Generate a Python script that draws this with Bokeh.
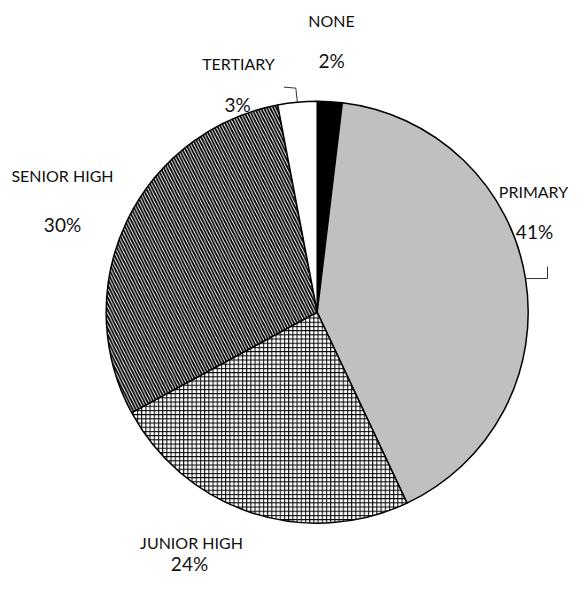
import numpy as np
from bokeh.plotting import figure
from bokeh.models import Range1d, ColumnDataSource
from bokeh.core.properties import value
from bokeh.embed import file_html
from bokeh.resources import INLINE

# ---------------- data ----------------
categories = ["None", "Primary", "Junior High", "Senior High", "Tertiary"]
shares = [1.9, 41.1, 24.1, 29.9, 3.0]          # percent
pct_labels = ["2%", "41%", "24%", "30%", "3%"]

# ---------------- styles ----------------
fill_colors = ["black", "#c0c0c0", "white", "white", "white"]
hatch_patterns = [" ", " ", "+", "\\", " "]
hatch_scales = [6, 6, 4.2, 6.2, 6]
hatch_weights = [1, 1, 1.0, 1.8, 1]

# ---------------- layout (figure pixels) ----------------
W, H = 568, 578
CX, CY = 316.7, 311.7     # pie centre
R = 211
BASE_SHIFT = 7            # renderer puts alphabetic baseline a bit lower
# label anchors (centre x, baseline y)
name_pos = [(331, 27), (533, 198), (191, 549), (62, 182), (238, 70)]
pct_pos = [(331, 67), (534, 238), (189, 570), (62, 231), (237, 111)]


def dx(sx):
    return sx - CX


def dy(sy):
    return CY - sy


p = figure(width=W, height=H, output_backend="svg", toolbar_location=None,
           x_range=Range1d(dx(0), dx(W)), y_range=Range1d(dy(H), dy(0)),
           min_border=0)
p.axis.visible = False
p.grid.visible = False
p.outline_line_color = None
p.background_fill_color = "white"

frac = np.array(shares) / sum(shares)
c1 = np.cumsum(frac) * 2 * np.pi
c0 = c1 - frac * 2 * np.pi
src = ColumnDataSource(dict(
    cat=categories,
    start=np.pi / 2 - c0,
    end=np.pi / 2 - c1,
    fill=fill_colors,
    hatch=hatch_patterns,
    hscale=hatch_scales,
    hweight=hatch_weights,
))
p.wedge(x=0, y=0, radius=R, start_angle="start", end_angle="end",
        direction="clock", source=src, fill_color="fill",
        hatch_pattern="hatch", hatch_scale="hscale", hatch_weight="hweight",
        hatch_color="black", line_color="black", line_width=1.5)

# leader lines for small / right-hand slices
mid = (c0 + c1) / 2
ex = R * np.sin(mid)
ey = R * np.cos(mid)
# Primary (index 1)
i = 1
p.line([ex[i], ex[i] + 22, ex[i] + 22], [ey[i], ey[i], ey[i] + 12],
       line_color="#333333", line_width=1)
# Tertiary (index 4)
i = 4
p.line([ex[i], ex[i] - 1.5, ex[i] - 13.5], [ey[i], ey[i] + 14, ey[i] + 15],
       line_color="#333333", line_width=1)

name_src = ColumnDataSource(dict(
    x=[dx(a) for a, b in name_pos], y=[dy(b - BASE_SHIFT) for a, b in name_pos],
    t=[c.upper() for c in categories]))
pct_src = ColumnDataSource(dict(
    x=[dx(a) for a, b in pct_pos], y=[dy(b - BASE_SHIFT) for a, b in pct_pos],
    t=pct_labels))
p.text(x="x", y="y", text="t", source=name_src, text_align="center",
       text_baseline="alphabetic", text_font=value("Lato"),
       text_font_size="16px", text_color="#111111")
p.text(x="x", y="y", text="t", source=pct_src, text_align="center",
       text_baseline="alphabetic", text_font=value("Lato"),
       text_font_size="19px", text_color="#111111")

open("out.html", "w").write(file_html(p, INLINE))
